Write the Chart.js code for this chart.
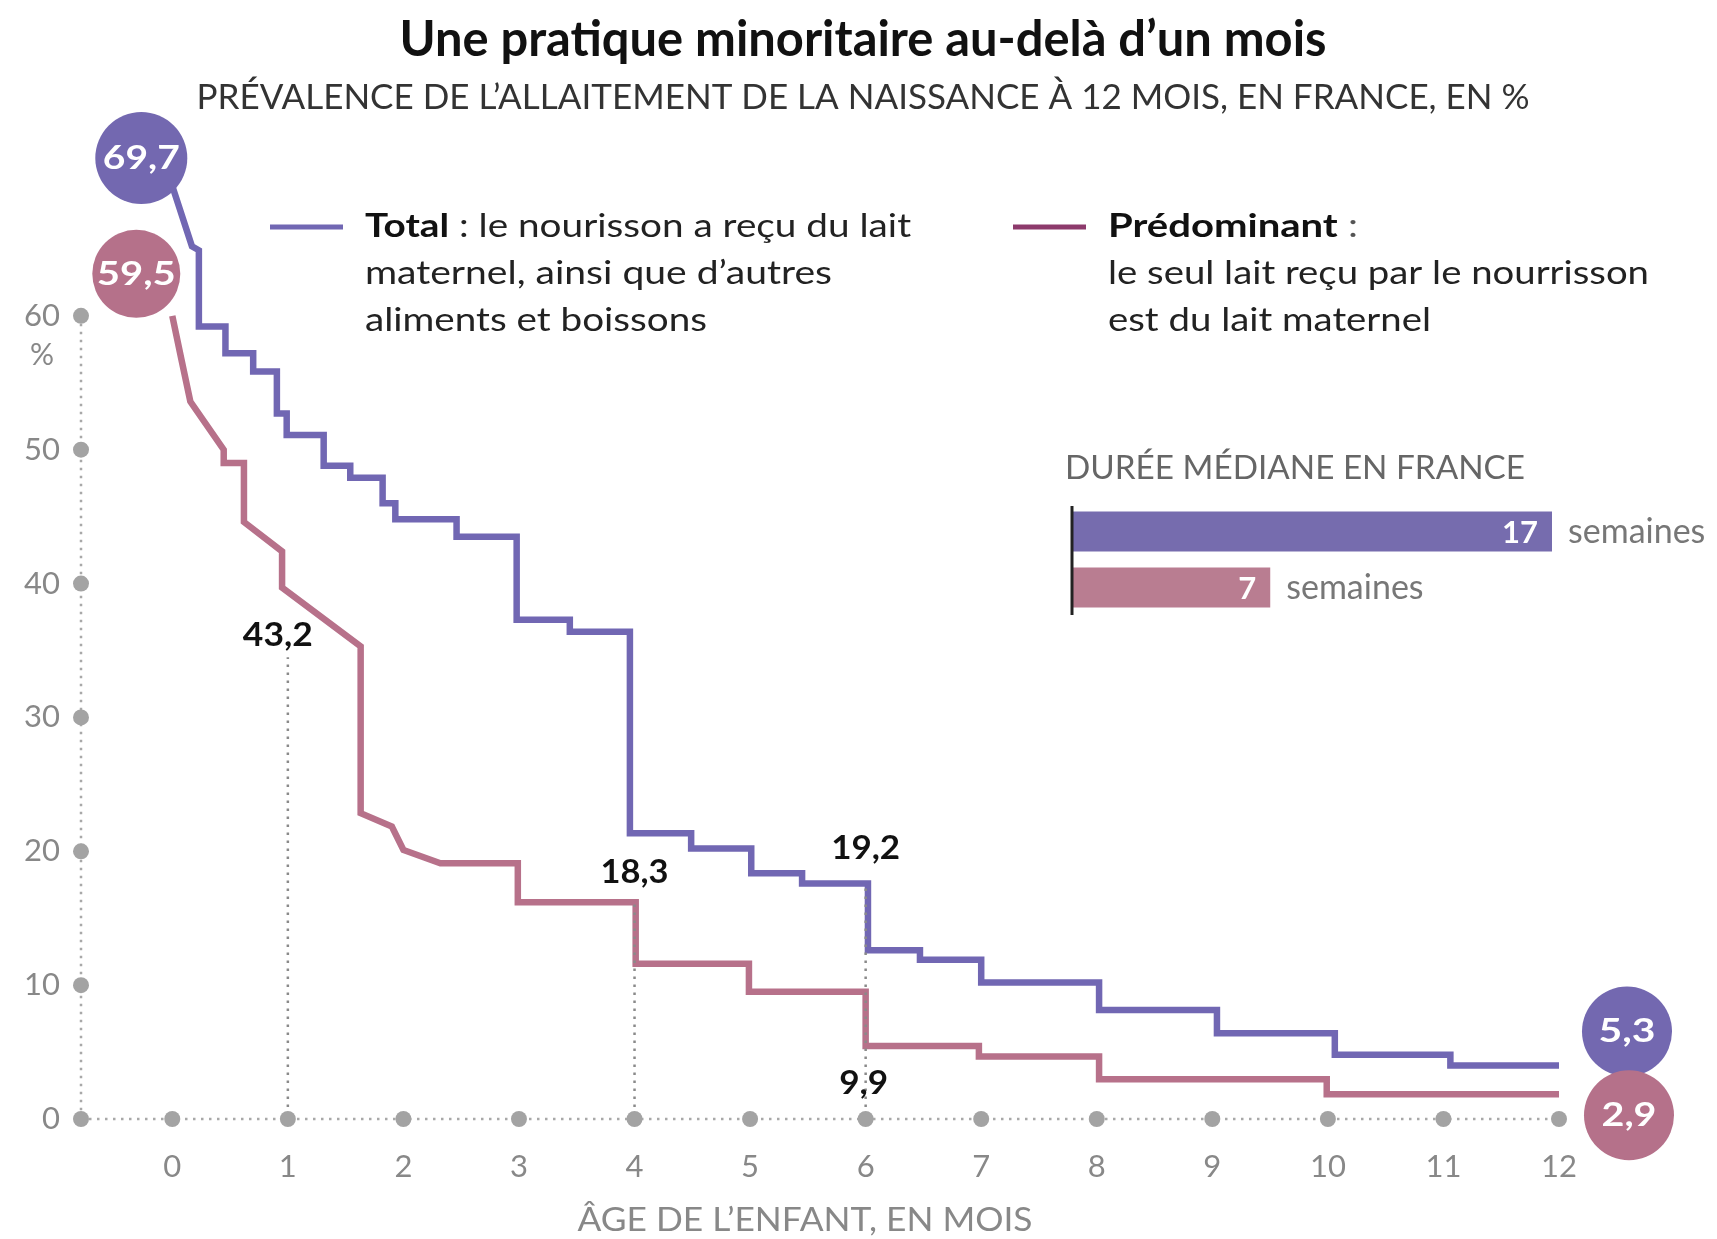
<!DOCTYPE html>
<html lang="fr">
<head>
<meta charset="utf-8">
<title>Une pratique minoritaire au-delà d'un mois</title>
<script src="https://cdn.jsdelivr.net/npm/chart.js@4.4.1/dist/chart.umd.min.js"></script>
<style>
  html, body { margin: 0; padding: 0; background: #fff; }
  #wrap { position: relative; width: 1717px; height: 1239px; overflow: hidden; }
  #main { position: absolute; left: 0; top: 0; }
  #bars { position: absolute; left: 1060px; top: 500px; }
</style>
</head>
<body>
<div id="wrap">
  <canvas id="main" width="1717" height="1239"></canvas>
  <canvas id="bars" width="657" height="120"></canvas>
</div>
<script>
// --- data ---
var monthTicks = [0, 1, 2, 3, 4, 5, 6, 7, 8, 9, 10, 11, 12];
var valueTicks = [0, 10, 20, 30, 40, 50, 60];

// Total : sloped start, then a staircase (month of each drop, level after it)
var totalHeadMonths = [0, 0.17, 0.23];
var totalHeadValues = [69.7, 65.2, 64.9];
var totalDropMonths = [0.23, 0.46, 0.70, 0.905, 0.99, 1.31, 1.54, 1.82, 1.93, 2.46, 2.98, 3.44, 3.96, 4.49, 5.01, 5.45, 6.02, 6.47, 7.0, 8.02, 9.04, 10.06, 11.06];
var totalDropValues = [59.2, 57.2, 55.85, 52.7, 51.1, 48.8, 47.9, 46.0, 44.8, 43.5, 37.3, 36.4, 21.35, 20.2, 18.35, 17.6, 12.6, 11.9, 10.2, 8.15, 6.4, 4.8, 4.0];

// Prédominant
var predHeadMonths = [0, 0.08, 0.156, 0.445, 0.445, 0.62, 0.62, 0.95, 0.95, 1.63, 1.63, 1.9, 2.0, 2.32];
var predHeadValues = [60.0, 56.7, 53.6, 50.0, 49.0, 49.0, 44.6, 42.4, 39.7, 35.3, 22.85, 21.85, 20.1, 19.1];
var predDropMonths = [2.99, 4.01, 4.99, 6.0, 6.98, 8.02, 9.99];
var predDropValues = [16.2, 11.6, 9.5, 5.45, 4.66, 2.97, 1.85];
var lastMonth = 12;

var totalEnds = ["69,7", "5,3"];
var predEnds = ["59,5", "2,9"];

var noteMonths = [1, 4, 6, 6];
var noteValues = [36.2, 18.5, 20.3, 2.8];
var noteTexts = ["43,2", "18,3", "19,2", "9,9"];
var guideMonths = [1, 4, 6];
var guideTops = [34.5, 16.2, 17.6];

var medianLabels = ["Total", "Prédominant"];
var medianWeeks = [17, 7];

// --- colours & fonts ---
var BLUE = '#7167b3', PINK = '#b7718a';
var FONT = 'Lato, "Open Sans", sans-serif';

function buildSteps(headX, headY, dropX, dropY, endX) {
  var pts = [];
  for (var i = 0; i < headX.length; i++) pts.push({ x: headX[i], y: headY[i] });
  var level = headY[headY.length - 1];
  for (var j = 0; j < dropX.length; j++) {
    pts.push({ x: dropX[j], y: level });
    level = dropY[j];
    pts.push({ x: dropX[j], y: level });
  }
  pts.push({ x: endX, y: level });
  return pts;
}

var totalPts = buildSteps(totalHeadMonths, totalHeadValues, totalDropMonths, totalDropValues, lastMonth);
var predPts = buildSteps(predHeadMonths, predHeadValues, predDropMonths, predDropValues, lastMonth);

// draws a run of text pieces, stretched to a given width
function fitText(ctx, parts, x, y, width, align) {
  var widths = [], total = 0;
  parts.forEach(function(p) {
    ctx.font = p[1];
    var w = ctx.measureText(p[0]).width;
    widths.push(w); total += w;
  });
  var sx = width ? width / total : 1;
  var left = x;
  if (align === 'center') left = x - total * sx / 2;
  if (align === 'right') left = x - total * sx;
  ctx.save();
  ctx.translate(left, y);
  ctx.scale(sx, 1);
  ctx.textAlign = 'left';
  ctx.textBaseline = 'alphabetic';
  var cx = 0;
  parts.forEach(function(p, i) {
    ctx.font = p[1];
    ctx.fillStyle = p[2];
    ctx.fillText(p[0], cx, 0);
    cx += widths[i];
  });
  ctx.restore();
}

function dotted(ctx, x1, y1, x2, y2) {
  ctx.beginPath(); ctx.moveTo(x1, y1); ctx.lineTo(x2, y2); ctx.stroke();
}

function bubble(ctx, cx, cy, r, color, text, w) {
  ctx.beginPath();
  ctx.arc(cx, cy, r, 0, Math.PI * 2);
  ctx.fillStyle = color;
  ctx.fill();
  fitText(ctx, [[text, 'bold 32px ' + FONT, '#fff']], cx, cy + 11, w, 'center');
}

var framePlugin = {
  id: 'frame',
  beforeDatasetsDraw: function(chart) {
    var ctx = chart.ctx, xs = chart.scales.x, ys = chart.scales.y;
    var x0 = chart.chartArea.left, y0 = ys.getPixelForValue(0);
    ctx.save();
    ctx.strokeStyle = '#a8a8a8';
    ctx.lineWidth = 2.5;
    ctx.setLineDash([2.5, 5.5]);
    dotted(ctx, x0, ys.getPixelForValue(valueTicks[valueTicks.length - 1]), x0, y0);
    dotted(ctx, x0, y0, xs.getPixelForValue(monthTicks[monthTicks.length - 1]), y0);
    ctx.setLineDash([]);
    ctx.fillStyle = '#a3a3a3';
    valueTicks.forEach(function(v) {
      ctx.beginPath(); ctx.arc(x0, ys.getPixelForValue(v), 8, 0, Math.PI * 2); ctx.fill();
    });
    monthTicks.forEach(function(m) {
      ctx.beginPath(); ctx.arc(xs.getPixelForValue(m), y0, 8, 0, Math.PI * 2); ctx.fill();
    });
    ctx.restore();
  },
  afterDatasetsDraw: function(chart) {
    var ctx = chart.ctx, xs = chart.scales.x, ys = chart.scales.y;
    var y0 = ys.getPixelForValue(0);
    ctx.save();
    ctx.strokeStyle = '#8a8a8a';
    ctx.lineWidth = 2.5;
    ctx.setLineDash([2.5, 5.5]);
    guideMonths.forEach(function(m, i) {
      var gx = xs.getPixelForValue(m);
      dotted(ctx, gx, y0 - 12, gx, ys.getPixelForValue(guideTops[i]));
    });
    ctx.restore();
  }
};

var textPlugin = {
  id: 'texts',
  afterDraw: function(chart) {
    var ctx = chart.ctx, xs = chart.scales.x, ys = chart.scales.y;
    ctx.save();
    // title + subtitle
    fitText(ctx, [["Une pratique minoritaire au-delà d’un mois", 'bold 50px ' + FONT, '#111']], 863, 56, 927, 'center');
    fitText(ctx, [["PRÉVALENCE DE L’ALLAITEMENT DE LA NAISSANCE À 12 MOIS, EN FRANCE, EN %", '35px ' + FONT, '#333']], 863, 109, 1333, 'center');

    // legend
    ctx.lineWidth = 5;
    ctx.strokeStyle = BLUE;
    dotted(ctx, 270, 227, 343, 227);
    ctx.strokeStyle = '#8d3a6c';
    dotted(ctx, 1013, 227, 1086, 227);
    var reg = '33px ' + FONT, bld = 'bold 33px ' + FONT;
    fitText(ctx, [["Total", bld, '#111'], [" : le nourisson a reçu du lait", reg, '#222']], 365, 237, 546);
    fitText(ctx, [["maternel, ainsi que d’autres", reg, '#222']], 365, 284, 467);
    fitText(ctx, [["aliments et boissons", reg, '#222']], 365, 331, 342);
    fitText(ctx, [["Prédominant", bld, '#111'], [" :", reg, '#555']], 1108, 237, 250);
    fitText(ctx, [["le seul lait reçu par le nourrisson", reg, '#222']], 1108, 284, 541);
    fitText(ctx, [["est du lait maternel", reg, '#222']], 1108, 331, 323);

    fitText(ctx, [["DURÉE MÉDIANE EN FRANCE", '33px ' + FONT, '#666']], 1065, 479, 460);

    // axis extras
    fitText(ctx, [["%", '30px ' + FONT, '#888']], 42, 365, 0, 'center');
    fitText(ctx, [["ÂGE DE L’ENFANT, EN MOIS", '33px ' + FONT, '#888']], 805, 1231, 455, 'center');

    // value notes
    var noteDx = [-10, 0, 0, -2];
    var noteW = [70, 68, 69, 49];
    noteTexts.forEach(function(t, i) {
      fitText(ctx, [[t, 'bold 33px ' + FONT, '#111']], xs.getPixelForValue(noteMonths[i]) + noteDx[i], ys.getPixelForValue(noteValues[i]) + 12, noteW[i], 'center');
    });

    // end bubbles
    var tS = totalPts[0], tE = totalPts[totalPts.length - 1];
    var pS = predPts[0], pE = predPts[predPts.length - 1];
    bubble(ctx, xs.getPixelForValue(tS.x) - 31, ys.getPixelForValue(tS.y) - 28, 46, '#7368b0', totalEnds[0], 77);
    bubble(ctx, xs.getPixelForValue(pS.x) - 36, ys.getPixelForValue(pS.y) - 42, 44, '#b5718a', predEnds[0], 79);
    bubble(ctx, xs.getPixelForValue(tE.x) + 68, ys.getPixelForValue(tE.y) - 34, 45, '#7368b0', totalEnds[1], 57);
    bubble(ctx, xs.getPixelForValue(pE.x) + 70, ys.getPixelForValue(pE.y) + 21, 45, '#b5718a', predEnds[1], 55);
    ctx.restore();
  }
};

new Chart(document.getElementById('main'), {
  type: 'line',
  data: {
    datasets: [
      { label: 'Prédominant', data: predPts, borderColor: PINK, borderWidth: 6.5, pointRadius: 0, tension: 0, clip: false, borderJoinStyle: 'miter', fill: false },
      { label: 'Total', data: totalPts, borderColor: BLUE, borderWidth: 6.5, pointRadius: 0, tension: 0, clip: false, borderJoinStyle: 'miter', fill: false }
    ]
  },
  options: {
    responsive: false,
    animation: false,
    devicePixelRatio: 1,
    layout: { padding: { left: 0, right: 158, top: 182, bottom: 0 } },
    plugins: { legend: { display: false }, tooltip: { enabled: false } },
    scales: {
      x: {
        type: 'linear', min: -0.79, max: 12,
        grid: { display: false, drawTicks: false },
        border: { display: false },
        afterBuildTicks: function(s) { s.ticks = monthTicks.map(function(v) { return { value: v }; }); },
        afterFit: function(s) { s.height = 120; },
        ticks: { padding: 29, color: '#888', autoSkip: false, maxRotation: 0, font: { family: FONT, size: 31 } }
      },
      y: {
        min: 0, max: 70,
        grid: { display: false, drawTicks: false },
        border: { display: false },
        afterBuildTicks: function(s) { s.ticks = valueTicks.map(function(v) { return { value: v }; }); },
        afterFit: function(s) { s.width = 81; },
        ticks: { padding: 21, color: '#888', font: { family: FONT, size: 31 } }
      }
    }
  },
  plugins: [framePlugin, textPlugin]
});

// inset: median duration in weeks
var barLabelPlugin = {
  id: 'barLabels',
  afterDatasetsDraw: function(chart) {
    var ctx = chart.ctx, area = chart.chartArea;
    var meta = chart.getDatasetMeta(0);
    ctx.save();
    ctx.strokeStyle = '#222';
    ctx.lineWidth = 3;
    dotted(ctx, area.left - 1, 6, area.left - 1, 115);
    meta.data.forEach(function(bar, i) {
      fitText(ctx, [[String(medianWeeks[i]), 'bold 31px ' + FONT, '#fff']], bar.x - 14, bar.y + 11, 0, 'right');
      fitText(ctx, [["semaines", '34px ' + FONT, '#777']], bar.x + 16, bar.y + 11, 0, 'left');
    });
    ctx.restore();
  }
};

new Chart(document.getElementById('bars'), {
  type: 'bar',
  data: {
    labels: medianLabels,
    datasets: [{ data: medianWeeks, backgroundColor: ['#766cae', '#b97d91'], barPercentage: 0.714, categoryPercentage: 1 }]
  },
  options: {
    indexAxis: 'y',
    responsive: false,
    animation: false,
    devicePixelRatio: 1,
    layout: { padding: { left: 13, right: 165, top: 3.5, bottom: 4.5 } },
    scales: { x: { display: false, min: 0, max: 17 }, y: { display: false } },
    plugins: { legend: { display: false }, tooltip: { enabled: false } }
  },
  plugins: [barLabelPlugin]
});
</script>
</body>
</html>
